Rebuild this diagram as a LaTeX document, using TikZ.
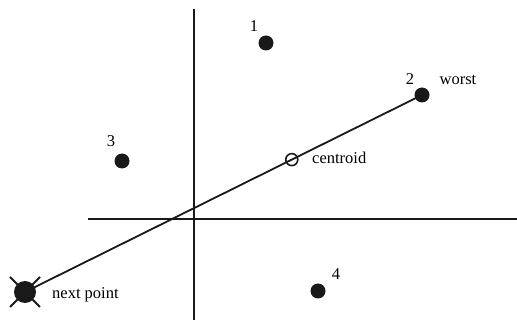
\documentclass[tikz,border=0pt]{standalone}
\usepackage{fontspec}
\setmainfont{Liberation Serif}
\usetikzlibrary{calc}
\tikzset{
  axis/.style={line width=1.5pt,draw=black!90},
  simplex/.style={line width=1.8pt,draw=black!90},
  vertex/.style={circle,fill=black!90,minimum size=15pt,inner sep=0pt},
  newvertex/.style={circle,fill=black!90,minimum size=22pt,inner sep=0pt},
  centre/.style={circle,draw=black!90,line width=1.6pt,minimum size=12pt,inner sep=0pt},
  lbl/.style={inner sep=1pt,font=\fontsize{16.5}{18}\selectfont},
}
\begin{document}
\begin{tikzpicture}[x=1pt,y=-1pt]
  \useasboundingbox (0,0) rectangle (517,320);
  % axes
  \coordinate (ytop) at (194,9);
  \coordinate (ybot) at (194,320);
  \coordinate (xleft) at (88,219);
  \coordinate (xright) at (517,219);
  \draw[axis] (ytop) -- (ybot);
  \draw[axis] (xleft) -- (xright);

  % simplex vertices
  \node[vertex] (p1) at (266,43) {};
  \node[vertex] (p2) at (422,95) {};
  \node[vertex] (p3) at (122,161) {};
  \node[vertex] (p4) at (318,291) {};
  \node[lbl] (l1) at (254,26) {1};
  \node[lbl] (l2) at (410,79) {2};
  \node[lbl] (l3) at (111,141) {3};
  \node[lbl] (l4) at (336,274) {4};
  \node[lbl] (worst) at (458,80) {worst};

  % reflection through the centroid
  \node[newvertex] (next) at (25,292) {};
  \draw[simplex] (next.center) -- (p2.center);
  \draw[simplex] ($(next)+(-15,-15)$) -- ($(next)+(15,15)$);
  \draw[simplex] ($(next)+(-15,15)$) -- ($(next)+(15,-15)$);
  \node[centre] (cen) at ($(next)!0.672!(p2)$) {};
  \node[lbl,anchor=west] (centroid) at (311,158) {centroid};
  \node[lbl,anchor=west] (nextlbl) at (51,295) {next point};
\end{tikzpicture}
\end{document}
